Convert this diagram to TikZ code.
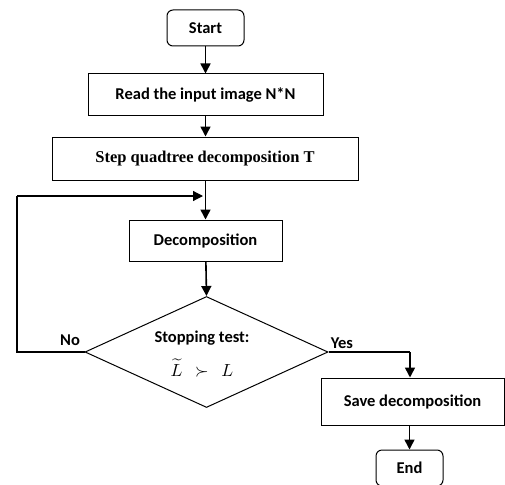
\documentclass[tikz,border=0pt]{standalone}
\usepackage{graphicx}
\usepackage{fontspec}
\setmainfont{Carlito}
\newfontfamily\timesbf{Liberation Serif}
\usetikzlibrary{shapes.geometric,arrows.meta}
\begin{document}
\begin{tikzpicture}[x=1pt,y=-1pt,
  every node/.style={font=\fontsize{16.5}{19}\selectfont\bfseries},
  boxn/.style={draw,line width=1pt,minimum width=#1,inner sep=0pt},
  term/.style={draw,line width=1pt,rounded corners=6pt,minimum width=77pt,minimum height=36pt,inner sep=0pt},
  arr/.style={line width=1.6pt,-{Triangle[width=10pt,length=10pt]}},
  ln/.style={line width=1.2pt}]
\useasboundingbox (0,0) rectangle (505,484);
\clip (0,0) rectangle (505,484);
\node[term] (start) at (205.5,28) {Start};
\node[boxn=235pt,minimum height=41pt] (read) at (205.5,94.5) {Read the input image N*N};
\node[boxn=306pt,minimum height=43pt,font=\fontsize{16.5}{19}\selectfont\timesbf\bfseries] (step) at (205,158.5) {Step quadtree decomposition T};
\node[boxn=153pt,minimum height=41pt] (dec) at (205.5,240.5) {Decomposition};
\node[draw,line width=1pt,diamond,minimum width=243pt,minimum height=111pt,inner sep=0pt] (dia) at (206.5,352) {};
\node[inner sep=0pt] (stt) at (202,338) {Stopping test:};
\node[inner sep=0pt,font=\normalsize] (lt) at (202,368) {\scalebox{1.75}{$\widetilde{L}\;\,\succ\;\,L$}};
\node[boxn=183pt,minimum height=47pt] (save) at (412.5,401.5) {Save decomposition};
\node[term,minimum width=67pt] (end) at (409.5,468) {End};
\coordinate (fbx) at (17,196);
\coordinate (yx) at (410,352);
\draw[arr] (start) -- (read);
\draw[arr] (read) -- (step.north -| read);
\draw[arr] (step.south -| dec) -- (dec);
\draw[arr] (dec) -- (dia.north);
\draw[ln] (dia.west) -- (dia.west -| fbx) -- (fbx);
\draw[ln,-{Triangle[width=10pt,length=10pt]}] (fbx) -- (203,196);
\draw[ln] (dia.east) -- (yx);
\draw[arr] (yx) -- (save.north -| yx);
\draw[arr] (save.south -| end) -- (end);
\node at (70,340) {No};
\node at (342,343) {Yes};
\end{tikzpicture}
\end{document}
